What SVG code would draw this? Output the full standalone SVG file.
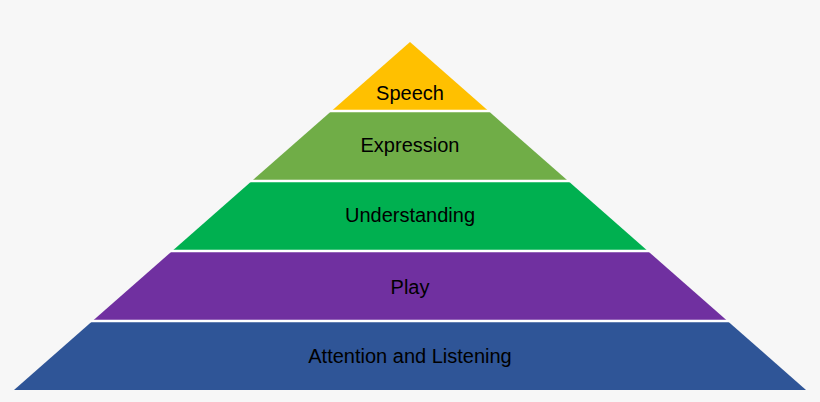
<svg xmlns="http://www.w3.org/2000/svg" width="820" height="402" viewBox="0 0 820 402">
<style>
.t{font-family:"Liberation Sans",Arial,sans-serif;font-size:20px;fill:#000;text-anchor:middle}
.sep{stroke:#fff;stroke-width:2.5}
</style>
<rect width="820" height="402" fill="#f7f7f7"/>
<g id="speech"><polygon points="410,42 331.5,111 488.5,111" fill="#FFC000"/><text class="t" x="410" y="100">Speech</text></g>
<g id="expression"><polygon points="331.5,111 488.5,111 568.2,181 251.8,181" fill="#70AD47"/><text class="t" x="410" y="152">Expression</text></g>
<g id="understanding"><polygon points="251.8,181 568.2,181 647.8,251 172.2,251" fill="#00B050"/><text class="t" x="410" y="222">Understanding</text></g>
<g id="play"><polygon points="172.2,251 647.8,251 727.5,321 92.5,321" fill="#7030A0"/><text class="t" x="410" y="294">Play</text></g>
<g id="attention"><polygon points="92.5,321 727.5,321 806,390 14,390" fill="#2F5597"/><text class="t" x="410" y="363">Attention and Listening</text></g>
<g id="connectors">
<line class="sep" x1="330" y1="111" x2="490" y2="111"/>
<line class="sep" x1="250" y1="181" x2="570" y2="181"/>
<line class="sep" x1="170" y1="251" x2="650" y2="251"/>
<line class="sep" x1="90" y1="321" x2="730" y2="321"/>
</g>
</svg>
